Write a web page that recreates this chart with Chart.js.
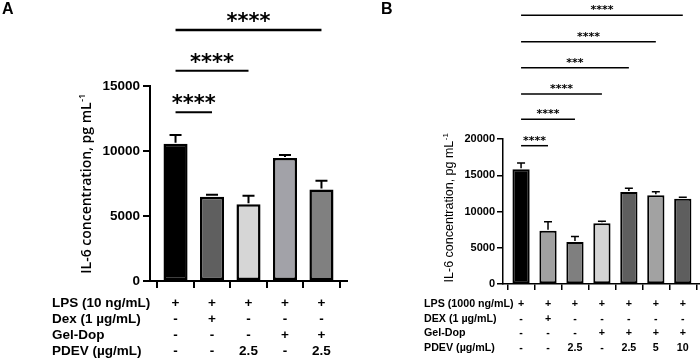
<!DOCTYPE html>
<html><head><meta charset="utf-8">
<script src="https://cdn.jsdelivr.net/npm/chart.js@4.4.0/dist/chart.umd.min.js"></script>
<style>html,body{margin:0;padding:0;background:#fff;width:700px;height:359px;overflow:hidden}
#a{position:absolute;left:0;top:0}#b{position:absolute;left:350px;top:0}</style>
</head><body>
<canvas id="a" width="350" height="359"></canvas>
<canvas id="b" width="350" height="359"></canvas>
<script>
// ---- Panel A data ----
const valuesA = [10560, 6480, 5900, 9460, 7030];
const errorsA = [11230, 6640, 6560, 9690, 7720];
const colorsA = ['#000000', '#5f5f5f', '#d6d6d6', '#a2a2a8', '#808080'];
const rowLabelsA = ['LPS (10 ng/mL)', 'Dex (1 µg/mL)', 'Gel-Dop', 'PDEV (µg/mL)'];
const rowsA = [
  ['+', '+', '+', '+', '+'],
  ['-', '+', '-', '-', '-'],
  ['-', '-', '-', '+', '+'],
  ['-', '-', '2.5', '-', '2.5']
];
const sigA = [[1, 2, '****'], [1, 3, '****'], [1, 5, '****']];
const yTicksA = [0, 15000, 5000];

// ---- Panel B data ----
const valuesB = [15840, 7360, 5810, 8380, 12680, 12230, 11760];
const errorsB = [16700, 8600, 6540, 8650, 13190, 12720, 11950];
const colorsB = ['#000000', '#a0a0a0', '#7f7f7f', '#d4d4d4', '#5e5e5e', '#a2a2a2', '#5e5e5e'];
const rowLabelsB = ['LPS (1000 ng/mL)', 'DEX (1 µg/mL)', 'Gel-Dop', 'PDEV (µg/mL)'];
const rowsB = [
  ['+', '+', '+', '+', '+', '+', '+'],
  ['-', '+', '-', '-', '-', '-', '-'],
  ['-', '-', '-', '+', '+', '+', '+'],
  ['-', '-', '2.5', '-', '2.5', '5', '10']
];
const sigB = [[1, 2, '****'], [1, 3, '****'], [1, 4, '****'], [1, 5, '***'], [1, 6, '****'], [1, 7, '****']];
const yTicksB = [0, 20000, 5000];

const yTitle = 'IL-6 concentration, pg mL';
const yTitleSup = '-1';

function panelPlugin(c) {
  return {
    id: 'panel' + c.letter,
    afterDraw(chart) {
      const ctx = chart.ctx, xs = chart.scales.x, ys = chart.scales.y;
      ctx.save();
      ctx.fillStyle = '#000'; ctx.strokeStyle = '#000';
      // error bars
      ctx.lineWidth = c.errLW;
      c.values.forEach((v, i) => {
        const x = xs.getPixelForValue(i + 1);
        const y0 = ys.getPixelForValue(v);
        const y1 = ys.getPixelForValue(c.errors[i]);
        ctx.beginPath();
        ctx.moveTo(x, y0 - 1); ctx.lineTo(x, y1);
        ctx.moveTo(x - c.cap, y1); ctx.lineTo(x + c.cap, y1);
        ctx.stroke();
      });
      // significance
      ctx.font = c.starFont; ctx.textAlign = 'center'; ctx.textBaseline = 'alphabetic';
      c.sig.forEach((s, k) => {
        const xa = xs.getPixelForValue(s[0]), xb = xs.getPixelForValue(s[1]);
        const y = c.sigY[k];
        ctx.lineWidth = c.sigLW[k];
        ctx.beginPath(); ctx.moveTo(xa, y); ctx.lineTo(xb, y); ctx.stroke();
        const m = ctx.measureText(s[2]);
        const cy = y - c.starOff;
        const base = cy + (m.actualBoundingBoxAscent - m.actualBoundingBoxDescent) / 2;
        ctx.fillText(s[2], (xa + xb) / 2, base);
      });
      // table
      ctx.textBaseline = 'middle';
      c.rowLabels.forEach((lab, r) => {
        ctx.font = c.tableFont; ctx.textAlign = 'left';
        ctx.fillText(lab, c.labelX, c.rowY[r]);
        ctx.textAlign = 'center';
        c.rows[r].forEach((t, i) => {
          ctx.fillText(t, xs.getPixelForValue(i + 1), c.rowY[r]);
        });
      });
      // y title
      ctx.save();
      ctx.translate(c.titleX, c.titleY);
      ctx.rotate(-Math.PI / 2);
      ctx.font = c.titleFont;
      const w1 = ctx.measureText(yTitle).width;
      ctx.font = c.supFont;
      const w2 = ctx.measureText(yTitleSup).width;
      const start = -(w1 + w2) / 2;
      ctx.textAlign = 'left'; ctx.textBaseline = 'middle';
      ctx.font = c.titleFont;
      ctx.fillText(yTitle, start, 0);
      ctx.font = c.supFont;
      ctx.fillText(yTitleSup, start + w1 + 0.5, -c.supRise);
      ctx.restore();
      // panel letter
      ctx.font = 'bold 16px "Liberation Sans", Arial, sans-serif';
      ctx.textAlign = 'left'; ctx.textBaseline = 'top';
      ctx.fillText(c.letter, c.letterX, 2);
      ctx.restore();
    }
  };
}

function makeChart(id, vals, cols, xr, yt, sizes, plugin) {
  return new Chart(document.getElementById(id), {
    type: 'bar',
    data: { datasets: [{
      data: vals.map((v, i) => ({ x: i + 1, y: v })),
      backgroundColor: cols, borderColor: '#000', borderWidth: sizes.bw,
      barPercentage: sizes.bp, categoryPercentage: 1, borderSkipped: false
    }] },
    options: {
      responsive: false, animation: false, devicePixelRatio: 1,
      layout: { padding: { top: sizes.top, right: sizes.right, left: 0, bottom: 0 } },
      plugins: { legend: { display: false }, tooltip: { enabled: false } },
      scales: {
        x: {
          type: 'linear', min: xr[0], max: xr[1], offset: false,
          ticks: { stepSize: 1, includeBounds: false, display: false },
          grid: { drawOnChartArea: false, drawTicks: true, tickLength: sizes.tl, color: '#000', lineWidth: sizes.alw },
          border: { color: '#000', width: sizes.alw },
          afterFit(s) { s.height = sizes.xh; }
        },
        y: {
          min: yt[0], max: yt[1],
          ticks: { stepSize: yt[2], color: '#000', padding: sizes.tp,
            callback: (v) => String(v),
            font: { family: '"Liberation Sans", Arial, sans-serif', weight: 'bold', size: sizes.tfs } },
          grid: { drawOnChartArea: false, drawTicks: true, tickLength: sizes.tl, color: '#000', lineWidth: sizes.alw },
          border: { color: '#000', width: sizes.alw },
          afterFit(s) { s.width = sizes.yw; }
        }
      }
    },
    plugins: [plugin]
  });
}

makeChart('a', valuesA, colorsA, [0.3, 5.7], yTicksA,
  { bw: 2.5, bp: 0.66, top: 86, right: 3, tl: 7, alw: 2, xh: 78, yw: 150, tp: 3, tfs: 13.5 },
  panelPlugin({
    letter: 'A', letterX: 2, values: valuesA, errors: errorsA, errLW: 2, cap: 6,
    sig: sigA, sigY: [112.3, 70.7, 30], sigLW: [2, 2, 2.5], starOff: 13,
    starFont: 'bold 21px "DejaVu Sans", sans-serif',
    rowLabels: rowLabelsA, rows: rowsA, rowY: [303, 319, 335, 351], labelX: 52,
    tableFont: 'bold 13.5px "Liberation Sans", Arial, sans-serif',
    titleX: 87, titleY: 184, titleFont: '600 14px "Open Sans", sans-serif',
    supFont: '600 9px "Open Sans", sans-serif', supRise: 5
  }));

makeChart('b', valuesB, colorsB, [0.33, 7.62], yTicksB,
  { bw: 2, bp: 0.64, top: 139, right: 0.5, tl: 6, alw: 1.5, xh: 75, yw: 153, tp: 2, tfs: 11 },
  panelPlugin({
    letter: 'B', letterX: 31, values: valuesB, errors: errorsB, errLW: 1.5, cap: 4,
    sig: sigB, sigY: [145.7, 119.3, 94, 67.7, 41.7, 15.3], sigLW: [1.5, 1.5, 1.5, 1.5, 1.5, 1.5], starOff: 7.5,
    starFont: 'bold 11px "DejaVu Sans", sans-serif',
    rowLabels: rowLabelsB, rows: rowsB, rowY: [304, 319, 333, 348], labelX: 74,
    tableFont: 'bold 10.7px "Liberation Sans", Arial, sans-serif',
    titleX: 100, titleY: 208, titleFont: '12.5px "Liberation Sans", Arial, sans-serif',
    supFont: '8px "Liberation Sans", Arial, sans-serif', supRise: 4.5
  }));
</script>
</body></html>
